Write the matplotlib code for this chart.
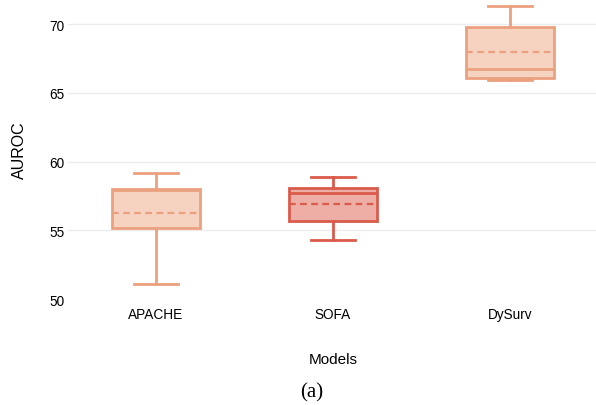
import matplotlib
matplotlib.use("Agg")
import matplotlib.pyplot as plt

# values
models = ["APACHE", "SOFA", "DySurv"]
whisker_low = [51.07, 54.29, 65.9]
q1 = [55.19, 55.7, 66.1]
median = [57.92, 57.69, 66.7]
mean = [56.28, 56.93, 67.99]
q3 = [57.97, 58.05, 69.8]
whisker_high = [59.16, 58.9, 71.33]

edge_colors = ["#EBA07E", "#DB5B4B", "#EBA07E"]
fill_colors = ["#F6D2C0", "#EDAEA5", "#F6D2C0"]

plt.rcParams["font.family"] = ["Liberation Sans", "DejaVu Sans"]

fig = plt.figure(figsize=(5.96, 4.06), dpi=100)
ax = fig.add_axes([0.1133, 0.2586, 0.891, 0.7414])

stats = []
for i in range(len(models)):
    stats.append({"label": models[i], "whislo": whisker_low[i], "q1": q1[i],
                  "med": median[i], "mean": mean[i], "q3": q3[i],
                  "whishi": whisker_high[i], "fliers": []})

for i, s in enumerate(stats):
    c = edge_colors[i]
    ax.bxp([s], positions=[i], widths=0.5, patch_artist=True, showfliers=False,
           showmeans=True, meanline=True,
           boxprops=dict(facecolor=fill_colors[i], edgecolor=c, linewidth=2),
           medianprops=dict(color=c, linewidth=2),
           meanprops=dict(color=c, linewidth=1.6, linestyle=(0, (3, 2))),
           whiskerprops=dict(color=c, linewidth=2),
           capprops=dict(color=c, linewidth=2),
           capwidths=0.25, zorder=3)

ax.set_xlim(-0.5, 2.5)
ax.set_ylim(49.93, 71.82)
ax.set_yticks([50, 55, 60, 65, 70])
ax.set_xticks(range(len(models)))
ax.set_xticklabels(models, fontsize=9.8)
ax.tick_params(axis="y", labelsize=9.8, length=0, pad=2)
ax.tick_params(axis="x", length=0, pad=5)
ax.grid(axis="y", color="#ececec", linewidth=1, zorder=0)
ax.yaxis.get_gridlines()[0].set_visible(False)
ax.set_axisbelow(True)
for sp in ax.spines.values():
    sp.set_visible(False)

ax.set_ylabel("AUROC", fontsize=11.5, labelpad=16)
ax.set_xlabel("Models", fontsize=11, labelpad=22)
fig.text(312 / 596, 1 - 393 / 406, "(a)", fontsize=15, family="Liberation Serif",
         ha="center", va="center")

fig.savefig("out.png", dpi=100)
